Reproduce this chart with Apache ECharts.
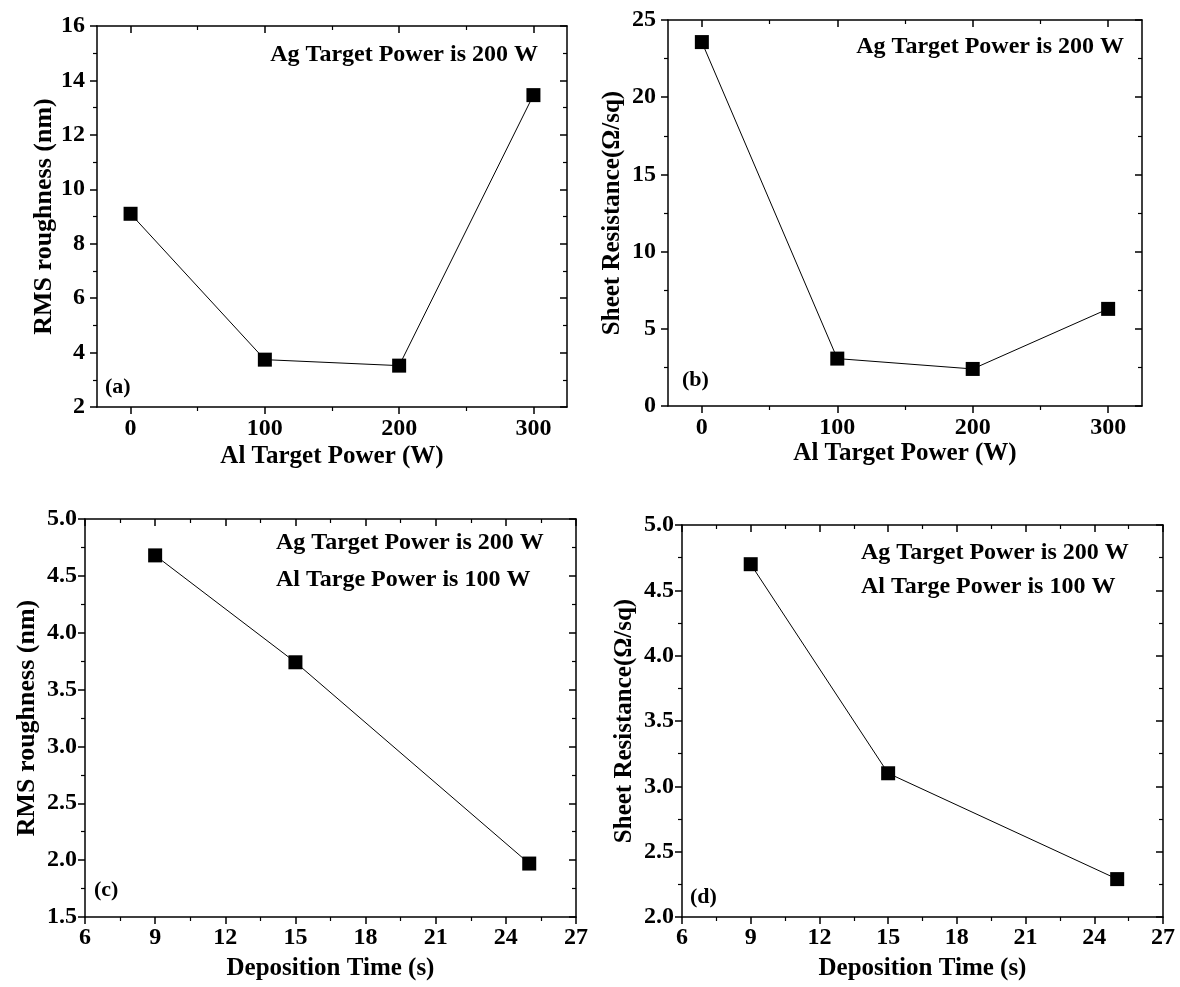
<!DOCTYPE html>
<html><head><meta charset="utf-8">
<script src="https://cdn.jsdelivr.net/npm/echarts@6/dist/echarts.min.js"></script>
<style>html,body{margin:0;padding:0;background:#fff}#c{width:1180px;height:987px}</style>
</head><body><div id="c"></div>
<script>
// ---- data ----
const powerX = [0, 100, 200, 300];
const rmsVsPower = [9.10, 3.74, 3.52, 13.46];
const rsVsPower = [23.57, 3.07, 2.40, 6.29];
const timeX = [9, 15, 25];
const rmsVsTime = [4.68, 3.74, 1.97];
const rsVsTime = [4.70, 3.10, 2.29];

const powerTicks = [0, 100, 200, 300];
const rmsPowerTicks = [2, 4, 6, 8, 10, 12, 14, 16];
const rsPowerTicks = [0, 5, 10, 15, 20, 25];
const timeTicks = [6, 9, 12, 15, 18, 21, 24, 27];
const rmsTimeTicks = [1.5, 2.0, 2.5, 3.0, 3.5, 4.0, 4.5, 5.0];
const rsTimeTicks = [2.0, 2.5, 3.0, 3.5, 4.0, 4.5, 5.0];

const xNamePower = 'Al Target Power (W)';
const xNameTime = 'Deposition Time (s)';
const yNameRms = 'RMS roughness (nm)';
const yNameRs = 'Sheet Resistance(Ω/sq)';
const noteAg = 'Ag Target Power is 200 W';
const noteAl = 'Al Targe Power is 100 W';

function mids(t){const m=[];for(let i=0;i<t.length-1;i++)m.push(+((t[i]+t[i+1])/2).toFixed(4));return m;}

const FONT = 'Liberation Serif';
const panels = [
  {grid:{left:97,top:26,width:470,height:381}, xr:[-25,325], yr:[2,16], xs:powerX, ys:rmsVsPower,
   xt:powerTicks, yt:rmsPowerTicks, yDec:0, xName:xNamePower, yName:yNameRms, yFs:26, xGap:37, yGap:40, xm:10, ym:12},
  {grid:{left:668,top:20,width:474,height:386}, xr:[-25,325], yr:[0,25], xs:powerX, ys:rsVsPower,
   xt:powerTicks, yt:rsPowerTicks, yDec:0, xName:xNamePower, yName:yNameRs, yFs:25, xGap:33, yGap:43, xm:10, ym:12},
  {grid:{left:85,top:519,width:491,height:398}, xr:[6,27], yr:[1.5,5.0], xs:timeX, ys:rmsVsTime,
   xt:timeTicks, yt:rmsTimeTicks, yDec:1, xName:xNameTime, yName:yNameRms, yFs:26, xGap:39, yGap:45, xm:9, ym:8},
  {grid:{left:682,top:525,width:481,height:392}, xr:[6,27], yr:[2.0,5.0], xs:timeX, ys:rsVsTime,
   xt:timeTicks, yt:rsTimeTicks, yDec:1, xName:xNameTime, yName:yNameRs, yFs:25, xGap:39, yGap:45, xm:9, ym:8}
];

const AX = '#000';
const grids=[], xAxes=[], yAxes=[], series=[];
panels.forEach((p,i)=>{
  grids.push(Object.assign({containLabel:false}, p.grid));
  const base = (range)=>({type:'value', gridIndex:i, min:range[0], max:range[1], splitLine:{show:false},
     axisLine:{show:true, onZero:false, lineStyle:{color:AX,width:1.5}}});
  const xMain = Object.assign(base(p.xr), {position:'bottom',
     axisTick:{show:true, inside:false, length:7, customValues:p.xt, lineStyle:{color:AX,width:1.5}},
     axisLabel:{show:true, customValues:p.xt, margin:p.xm, color:'#000', fontFamily:FONT, fontWeight:'bold', fontSize:24},
     name:p.xName, nameLocation:'middle', nameGap:p.xGap,
     nameTextStyle:{color:'#000', fontFamily:FONT, fontWeight:'bold', fontSize:25}});
  const xMinor = Object.assign(base(p.xr), {position:'bottom', axisLine:{show:false,onZero:false},
     axisTick:{show:true, inside:false, length:4, customValues:mids(p.xt), lineStyle:{color:AX,width:1.2}},
     axisLabel:{show:false}});
  const xTop = Object.assign(base(p.xr), {position:'top',
     axisTick:{show:true, inside:true, length:7, customValues:p.xt, lineStyle:{color:AX,width:1.5}},
     axisLabel:{show:false}});
  const xTopMinor = Object.assign(base(p.xr), {position:'top', axisLine:{show:false,onZero:false},
     axisTick:{show:true, inside:true, length:4, customValues:mids(p.xt), lineStyle:{color:AX,width:1.2}},
     axisLabel:{show:false}});
  const xi = xAxes.length;
  xAxes.push(xMain, xMinor, xTop, xTopMinor);
  const yMain = Object.assign(base(p.yr), {position:'left',
     axisTick:{show:true, inside:false, length:7, customValues:p.yt, lineStyle:{color:AX,width:1.5}},
     axisLabel:{show:true, customValues:p.yt, margin:p.ym, color:'#000', fontFamily:FONT, fontWeight:'bold', fontSize:24,
        formatter:(v)=>Number(v).toFixed(p.yDec)},
     name:p.yName, nameLocation:'middle', nameGap:p.yGap, nameRotate:90,
     nameTextStyle:{color:'#000', fontFamily:FONT, fontWeight:'bold', fontSize:p.yFs}});
  const yMinor = Object.assign(base(p.yr), {position:'left', axisLine:{show:false,onZero:false},
     axisTick:{show:true, inside:false, length:4, customValues:mids(p.yt), lineStyle:{color:AX,width:1.2}},
     axisLabel:{show:false}});
  const yRight = Object.assign(base(p.yr), {position:'right',
     axisTick:{show:true, inside:true, length:7, customValues:p.yt, lineStyle:{color:AX,width:1.5}},
     axisLabel:{show:false}});
  const yRightMinor = Object.assign(base(p.yr), {position:'right', axisLine:{show:false,onZero:false},
     axisTick:{show:true, inside:true, length:4, customValues:mids(p.yt), lineStyle:{color:AX,width:1.2}},
     axisLabel:{show:false}});
  const yi = yAxes.length;
  yAxes.push(yMain, yMinor, yRight, yRightMinor);
  series.push({type:'line', xAxisIndex:xi, yAxisIndex:yi, data:p.xs.map((x,k)=>[x,p.ys[k]]),
     symbol:'rect', symbolSize:14, showAllSymbol:true,
     lineStyle:{color:'#000', width:1}, itemStyle:{color:'#000'}, z:5});
});

const tStyle = (txt, x, y, align, size)=>({type:'text', x:x, y:y, z:10,
   style:{text:txt, x:0, y:0, textAlign:align, textVerticalAlign:'middle', fill:'#000',
   font:'bold '+size+'px "'+FONT+'"'}});
const graphics = [
  tStyle(noteAg, 538, 55, 'right', 24),
  tStyle('(a)', 105, 387, 'left', 22),
  tStyle(noteAg, 1124, 47, 'right', 24),
  tStyle('(b)', 682, 380, 'left', 22),
  tStyle(noteAg, 276, 543, 'left', 24),
  tStyle(noteAl, 276, 580, 'left', 24),
  tStyle('(c)', 94, 890, 'left', 22),
  tStyle(noteAg, 861, 553, 'left', 24),
  tStyle(noteAl, 861, 587, 'left', 24),
  tStyle('(d)', 690, 897, 'left', 22)
];

const chart = echarts.init(document.getElementById('c'), null, {renderer:'canvas'});
chart.setOption({animation:false, backgroundColor:'#fff', grid:grids, xAxis:xAxes, yAxis:yAxes, series:series, graphic:graphics});
</script></body></html>
